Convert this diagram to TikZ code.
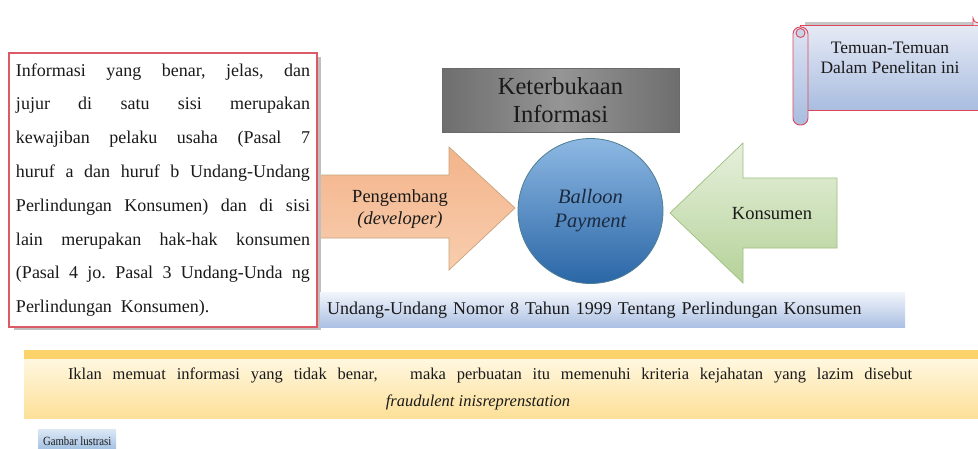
\documentclass[tikz,border=0pt]{standalone}
\usepackage{fontspec}
\setmainfont{Liberation Serif}
\newfontfamily\condfont[FakeStretch=0.86]{Liberation Serif}
\frenchspacing
\tolerance=10000
\hyphenpenalty=10000
\definecolor{boxred}{HTML}{DC5A66}
\definecolor{scrollred}{HTML}{E0465A}
\definecolor{txt}{HTML}{1A1A1A}
\definecolor{navy}{HTML}{1C2A40}
\definecolor{orDraw}{HTML}{C9A57D}
\definecolor{orTop}{HTML}{F3B48A}
\definecolor{orBot}{HTML}{F8CDAE}
\definecolor{grDraw}{HTML}{9EBF80}
\definecolor{grTop}{HTML}{E6F0DC}
\definecolor{grBot}{HTML}{B5D299}
\definecolor{ciDraw}{HTML}{4D7F93}
\definecolor{ciTop}{HTML}{8DB8E3}
\definecolor{ciBot}{HTML}{2A66A6}
\definecolor{gyDraw}{HTML}{6A6A6A}
\definecolor{gyEdge}{HTML}{6E6E6E}
\definecolor{gyMid}{HTML}{959595}
\definecolor{bbTop}{HTML}{F2F5FB}
\definecolor{bbBot}{HTML}{ABC0E3}
\definecolor{scTop}{HTML}{E6EAF5}
\definecolor{scBot}{HTML}{A9BDE0}
\definecolor{scRoll}{HTML}{DDE3F2}
\definecolor{scCurl}{HTML}{C9D4EB}
\definecolor{ybTop}{HTML}{FFF7E0}
\definecolor{ybBot}{HTML}{FDE098}
\definecolor{ybStrip}{HTML}{FBD36A}
\definecolor{sbTop}{HTML}{DCE8F5}
\definecolor{sbBot}{HTML}{98BAE0}
\begin{document}
\begin{tikzpicture}[x=1pt,y=-1pt,
  leftbox/.style={draw=boxred, line width=1.1pt, fill=white, minimum width=308pt, minimum height=274pt,
    text width=294pt, align=justify, inner sep=0pt, text=txt,
    font=\fontsize{18pt}{33.8pt}\selectfont},
  orangearrow/.style={draw=orDraw, line width=0.7pt, top color=orTop, bottom color=orBot},
  greenarrow/.style={draw=grDraw, line width=0.7pt, top color=grTop, bottom color=grBot},
  ballooncircle/.style={circle, draw=ciDraw, line width=0.8pt, top color=ciTop, bottom color=ciBot,
    minimum size=145pt, inner sep=0pt, align=center, text=navy, font=\fontsize{20.5pt}{24pt}\selectfont\itshape},
  graybox/.style={draw=gyDraw, line width=0.6pt, left color=gyEdge, right color=gyEdge, middle color=gyMid,
    minimum width=237pt, minimum height=64pt, align=center, text=txt, font=\fontsize{24.5pt}{28pt}\selectfont},
  blueband/.style={top color=bbTop, bottom color=bbBot, minimum width=585pt, minimum height=35pt,
    text width=571pt, inner xsep=7pt, inner ysep=0pt, align=left, text=txt, font=\fontsize{18pt}{20pt}\selectfont},
  labeltext/.style={align=center, text=txt, font=\fontsize{18.5pt}{22pt}\selectfont},
  scrolltext/.style={align=center, text=txt, font=\fontsize{17.5pt}{20.5pt}\selectfont},
  bandtext/.style={text=txt, font=\fontsize{16.5pt}{20pt}\selectfont},
  smallbox/.style={top color=sbTop, bottom color=sbBot, minimum width=78pt, minimum height=24pt,
    text=txt, font=\condfont\fontsize{12.5pt}{13pt}\selectfont, inner sep=0pt}
]
\useasboundingbox (0,0) rectangle (978,448);
\fill[white] (0,0) rectangle (978,448);

% orange arrow (drawn before the box so the box covers its tail)
\draw[orangearrow] (306,175) -- (449,175) -- (449,147) -- (515,208) -- (449,270) -- (449,238) -- (306,238) -- cycle;
\node[labeltext] (peng) at (400,209) {Pengembang\\\textit{(developer)}};

% left text box with shadow
\fill[gray!50] (14,57) rectangle (321,330);
\node[leftbox] (info) at (163,190) {Informasi yang benar, jelas, dan\linebreak
jujur di satu sisi merupakan\linebreak
kewajiban pelaku usaha (Pasal 7\linebreak
huruf a dan huruf b Undang-Undang\linebreak
Perlindungan Konsumen) dan di sisi\linebreak
lain merupakan hak-hak konsumen\linebreak
(Pasal 4 jo. Pasal 3 Undang-Unda ng\linebreak
Perlindungan\ \ Konsumen).};

% Keterbukaan Informasi
\node[graybox] (keter) at (560.5,100) {Keterbukaan\\Informasi};

% balloon payment
\node[ballooncircle] (balloon) at (590.5,211) {Balloon\\Payment};

% green arrow
\draw[greenarrow] (837,178) -- (743,178) -- (743,143) -- (670,213) -- (743,283) -- (743,248) -- (837,248) -- cycle;
\node[labeltext] (kons) at (772,214) {Konsumen};

% band
\node[blueband, anchor=north west] (uu) at (320,292) {Undang-Undang Nomor 8 Tahun 1999 Tentang Perlindungan Konsumen};

% scroll
\fill[gray!45] (805,22) rectangle (985,25);
\draw[scrollred, line width=0.9pt, top color=scTop, bottom color=scBot] (800,25) rectangle (990,110);
\draw[scrollred, line width=0.9pt, fill=scTop] (973,25) -- (973,18) arc[start angle=180, end angle=90, radius=5] -- (990,13) -- (990,25);
\draw[scrollred, line width=0.9pt, top color=scRoll, bottom color=scBot, rounded corners=7pt] (793,27) rectangle (808,125);
\draw[scrollred, line width=0.9pt, fill=scCurl] (800.5,33) circle[radius=4.5];
\node[scrolltext] (temuan) at (890,58) {Temuan-Temuan\\Dalam Penelitan ini};

% yellow band
\fill[top color=ybTop, bottom color=ybBot] (24,359) rectangle (985,418);
\fill[ybStrip] (24,350) rectangle (985,359);
\node[bandtext] (iklan1) at (490,375) {\makebox[844pt][s]{Iklan memuat informasi yang tidak benar,\ \ \ maka perbuatan itu memenuhi kriteria kejahatan yang lazim disebut}};
\node[bandtext] (iklan2) at (478,402) {\textit{fraudulent inisreprenstation}};

% small caption box
\node[smallbox, anchor=north west] (gambar) at (38,429) {Gambar lustrasi};
\end{tikzpicture}
\end{document}
